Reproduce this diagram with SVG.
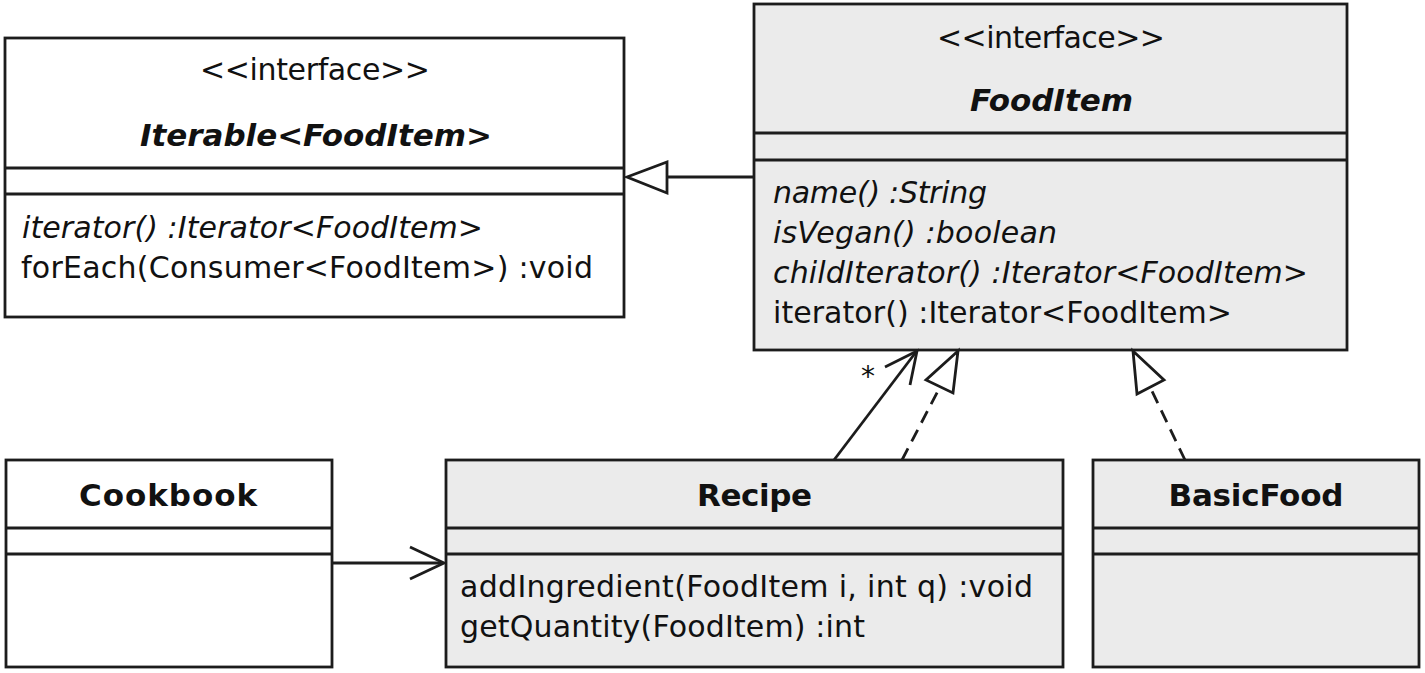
<svg xmlns="http://www.w3.org/2000/svg" width="1425" height="673" viewBox="0 0 1425 673">
<defs>
<style>
.box{stroke:#1c1c1c;stroke-width:2.8}
.w{fill:#ffffff}
.g{fill:#ebebeb}
.div{stroke:#1c1c1c;stroke-width:2.8}
text{font-family:"DejaVu Sans","Liberation Sans",sans-serif;fill:#111}
.st{font-size:30px}
.t{font-size:31px;font-weight:bold}
.ti{font-size:31px;font-weight:bold;font-style:italic}
.m{font-size:30px}
.mi{font-size:30px;font-style:italic}
.c{text-anchor:middle}
.ln{stroke:#1c1c1c;stroke-width:2.8;fill:none}
.dash{stroke-dasharray:13 8}
.tri{fill:#ffffff;stroke:#1c1c1c;stroke-width:2.8;stroke-linejoin:miter}
</style>
</defs>
<rect width="1425" height="673" fill="#ffffff"/>

<g id="iterable">
<rect class="box w" x="5" y="38" width="619" height="279"/>
<line class="div" x1="5" y1="168" x2="624" y2="168"/>
<line class="div" x1="5" y1="194" x2="624" y2="194"/>
<text class="st c" x="315" y="80" textLength="230">&lt;&lt;interface&gt;&gt;</text>
<text class="ti c" x="316" y="146" textLength="352">Iterable&lt;FoodItem&gt;</text>
<text class="mi" x="22" y="238" textLength="461">iterator() :Iterator&lt;FoodItem&gt;</text>
<text class="m" x="21" y="278" textLength="572">forEach(Consumer&lt;FoodItem&gt;) :void</text>
</g>

<g id="fooditem">
<rect class="box g" x="754" y="4" width="593" height="346"/>
<line class="div" x1="754" y1="133" x2="1347" y2="133"/>
<line class="div" x1="754" y1="160" x2="1347" y2="160"/>
<text class="st c" x="1051" y="48" textLength="228">&lt;&lt;interface&gt;&gt;</text>
<text class="ti c" x="1051.5" y="111" textLength="163">FoodItem</text>
<text class="mi" x="773" y="203" textLength="214">name() :String</text>
<text class="mi" x="773" y="243" textLength="284">isVegan() :boolean</text>
<text class="mi" x="773" y="283" textLength="535">childIterator() :Iterator&lt;FoodItem&gt;</text>
<text class="m" x="773" y="323" textLength="459">iterator() :Iterator&lt;FoodItem&gt;</text>
</g>

<g id="cookbook">
<rect class="box w" x="6" y="460" width="326" height="207"/>
<line class="div" x1="6" y1="528" x2="332" y2="528"/>
<line class="div" x1="6" y1="554" x2="332" y2="554"/>
<text class="t c" x="168" y="506" textLength="178">Cookbook</text>
</g>

<g id="recipe">
<rect class="box g" x="446" y="460" width="617" height="207"/>
<line class="div" x1="446" y1="528" x2="1063" y2="528"/>
<line class="div" x1="446" y1="554" x2="1063" y2="554"/>
<text class="t c" x="754.5" y="506" textLength="115">Recipe</text>
<text class="m" x="460" y="597" textLength="573">addIngredient(FoodItem i, int q) :void</text>
<text class="m" x="460" y="637" textLength="405">getQuantity(FoodItem) :int</text>
</g>

<g id="basicfood">
<rect class="box g" x="1093" y="460" width="326" height="207"/>
<line class="div" x1="1093" y1="528" x2="1419" y2="528"/>
<line class="div" x1="1093" y1="554" x2="1419" y2="554"/>
<text class="t c" x="1256" y="506" textLength="175">BasicFood</text>
</g>

<g id="connectors">
<line class="ln" x1="754" y1="177" x2="667" y2="177"/>
<polygon class="tri" points="627,177 667,162 667,193"/>
<line class="ln" x1="332" y1="563" x2="443" y2="563"/>
<polyline class="ln" points="410,547 444,563 410,579"/>
<line class="ln" x1="834" y1="460" x2="916" y2="352"/>
<polyline class="ln" points="885,367 917,351 910,385"/>
<text x="868" y="386" style="font-size:28px" class="c">*</text>
<line class="ln dash" x1="902" y1="460" x2="940" y2="387"/>
<polygon class="tri" points="958,351 926,380 953,393"/>
<line class="ln dash" x1="1185" y1="460" x2="1150" y2="387"/>
<polygon class="tri" points="1133,351 1164,380 1137,394"/>
</g>
</svg>
